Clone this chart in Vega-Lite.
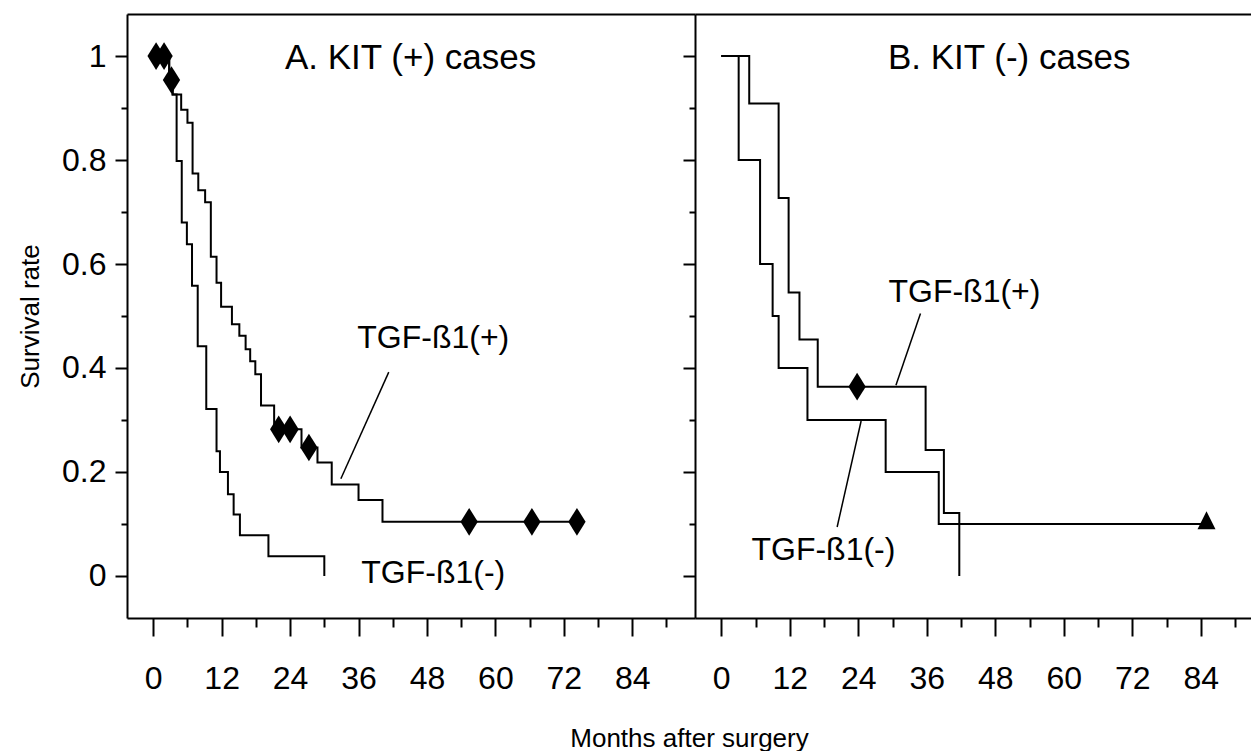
{
  "$schema": "https://vega.github.io/schema/vega-lite/v6.json",
  "background": "white",
  "padding": {"left": 17, "top": 14, "right": 0, "bottom": 0},
  "spacing": 0,
  "bounds": "flush",
  "config": {
    "font": "Liberation Sans",
    "view": {"stroke": null},
    "axis": {
      "grid": false,
      "domainColor": "black",
      "domainWidth": 2,
      "tickColor": "black",
      "tickWidth": 2,
      "labelColor": "black",
      "titleColor": "black",
      "labelFont": "Liberation Sans",
      "titleFont": "Liberation Sans",
      "labelFontSize": 32,
      "titleFontSize": 26,
      "titleFontWeight": "normal",
      "labelFlush": false,
      "labelOverlap": false
    },
    "text": {"font": "Liberation Sans", "color": "black"}
  },
  "datasets": {
    "curvesA": [
      {"group": "plus", "month": 0, "surv": 1.0},
      {"group": "plus", "month": 2.8, "surv": 0.955},
      {"group": "plus", "month": 3.4, "surv": 0.926},
      {"group": "plus", "month": 4.9, "surv": 0.897},
      {"group": "plus", "month": 6.0, "surv": 0.872},
      {"group": "plus", "month": 6.9, "surv": 0.774},
      {"group": "plus", "month": 7.9, "surv": 0.742},
      {"group": "plus", "month": 9.1, "surv": 0.719},
      {"group": "plus", "month": 10.1, "surv": 0.614},
      {"group": "plus", "month": 11.1, "surv": 0.564},
      {"group": "plus", "month": 11.9, "surv": 0.518},
      {"group": "plus", "month": 13.8, "surv": 0.484},
      {"group": "plus", "month": 15.1, "surv": 0.462},
      {"group": "plus", "month": 16.2, "surv": 0.436},
      {"group": "plus", "month": 17.0, "surv": 0.413},
      {"group": "plus", "month": 17.9, "surv": 0.388},
      {"group": "plus", "month": 18.9, "surv": 0.328},
      {"group": "plus", "month": 21.2, "surv": 0.282},
      {"group": "plus", "month": 26.0, "surv": 0.247},
      {"group": "plus", "month": 28.8, "surv": 0.218},
      {"group": "plus", "month": 31.3, "surv": 0.176},
      {"group": "plus", "month": 36.0, "surv": 0.146},
      {"group": "plus", "month": 40.2, "surv": 0.104},
      {"group": "plus", "month": 74.3, "surv": 0.104},
      {"group": "minus", "month": 0, "surv": 1.0},
      {"group": "minus", "month": 2.8, "surv": 0.955},
      {"group": "minus", "month": 3.4, "surv": 0.926},
      {"group": "minus", "month": 4.1, "surv": 0.798},
      {"group": "minus", "month": 5.0, "surv": 0.68},
      {"group": "minus", "month": 5.9, "surv": 0.638},
      {"group": "minus", "month": 6.8, "surv": 0.558},
      {"group": "minus", "month": 7.8, "surv": 0.442},
      {"group": "minus", "month": 9.3, "surv": 0.321},
      {"group": "minus", "month": 11.1, "surv": 0.24},
      {"group": "minus", "month": 11.7, "surv": 0.2},
      {"group": "minus", "month": 13.1, "surv": 0.157},
      {"group": "minus", "month": 14.1, "surv": 0.118},
      {"group": "minus", "month": 15.2, "surv": 0.078},
      {"group": "minus", "month": 20.2, "surv": 0.038},
      {"group": "minus", "month": 30.0, "surv": 0.0}
    ],
    "curvesB": [
      {"group": "plus", "month": 0, "surv": 1.0},
      {"group": "plus", "month": 4.9, "surv": 0.909},
      {"group": "plus", "month": 10.05, "surv": 0.727},
      {"group": "plus", "month": 11.8, "surv": 0.545},
      {"group": "plus", "month": 13.7, "surv": 0.455},
      {"group": "plus", "month": 16.9, "surv": 0.364},
      {"group": "plus", "month": 35.8, "surv": 0.242},
      {"group": "plus", "month": 39.0, "surv": 0.121},
      {"group": "plus", "month": 41.7, "surv": 0.0},
      {"group": "minus", "month": 0, "surv": 1.0},
      {"group": "minus", "month": 3.05, "surv": 0.8},
      {"group": "minus", "month": 6.8, "surv": 0.6},
      {"group": "minus", "month": 9.0, "surv": 0.5},
      {"group": "minus", "month": 10.05, "surv": 0.4},
      {"group": "minus", "month": 15.1, "surv": 0.3},
      {"group": "minus", "month": 28.8, "surv": 0.2},
      {"group": "minus", "month": 38.1, "surv": 0.1},
      {"group": "minus", "month": 85.0, "surv": 0.1}
    ],
    "diamondsA": [
      {"month": 0.5, "surv": 1.0},
      {"month": 1.9, "surv": 1.0},
      {"month": 3.2, "surv": 0.954},
      {"month": 22.0, "surv": 0.282},
      {"month": 24.0, "surv": 0.282},
      {"month": 27.3, "surv": 0.247},
      {"month": 55.4, "surv": 0.104},
      {"month": 66.4, "surv": 0.104},
      {"month": 74.3, "surv": 0.104}
    ],
    "diamondsB": [
      {"month": 23.8, "surv": 0.364}
    ],
    "trianglesB": [
      {"month": 85.0, "surv": 0.1}
    ],
    "leadersA": [
      {"m1": 32.9, "s1": 0.187, "m2": 41.3, "s2": 0.392}
    ],
    "leadersB": [
      {"m1": 30.6, "s1": 0.367, "m2": 34.9, "s2": 0.505},
      {"m1": 24.5, "s1": 0.298, "m2": 20.3, "s2": 0.094}
    ],
    "labelsA": [
      {"month": 49.1, "surv": 0.457, "text": "TGF-ß1(+)"},
      {"month": 49.1, "surv": 0.005, "text": "TGF-ß1(-)"}
    ],
    "labelsB": [
      {"month": 42.6, "surv": 0.546, "text": "TGF-ß1(+)"},
      {"month": 17.9, "surv": 0.049, "text": "TGF-ß1(-)"}
    ],
    "titlesA": [
      {"month": 23.1, "surv": 0.997, "text": "A. KIT (+) cases"}
    ],
    "titlesB": [
      {"month": 29.2, "surv": 0.997, "text": "B. KIT (-) cases"}
    ]
  },
  "hconcat": [
    {
      "width": 568,
      "height": 604,
      "layer": [
        {
          "data": {"name": "curvesA"},
          "mark": {"type": "line", "interpolate": "step-after", "color": "black", "strokeWidth": 2},
          "encoding": {
            "x": {
              "field": "month", "type": "quantitative",
              "scale": {"domain": [-4.6, 95], "nice": false, "zero": false},
              "axis": {
                "orient": "bottom",
                "values": [0, 6, 12, 18, 24, 30, 36, 42, 48, 54, 60, 66, 72, 78, 84, 90],
                "labelExpr": "(datum.value % 12 == 0 && datum.value <= 84) ? datum.label : ''",
                "tickSize": {"condition": {"test": "datum.value % 12 == 0", "value": 18}, "value": 9},
                "labelPadding": 27,
                "title": "Months after surgery",
                "titleX": 562,
                "titleY": 128,
                "titleBaseline": "alphabetic",
                "titleAlign": "center"
              }
            },
            "y": {
              "field": "surv", "type": "quantitative",
              "scale": {"domain": [-0.081, 1.081], "nice": false, "zero": false},
              "axis": {
                "values": [0, 0.1, 0.2, 0.3, 0.4, 0.5, 0.6, 0.7, 0.8, 0.9, 1],
                "format": ".1~f",
                "labelExpr": "(datum.label == '0' || datum.label == '0.2' || datum.label == '0.4' || datum.label == '0.6' || datum.label == '0.8' || datum.label == '1') ? datum.label : ''",
                "tickSize": {"condition": {"test": "round(datum.value * 10) % 2 == 0", "value": 12}, "value": 6},
                "labelPadding": 9,
                "title": "Survival rate",
                "titleX": -97,
                "titleAngle": 270,
                "titleBaseline": "middle",
                "titleAlign": "center"
              }
            },
            "detail": {"field": "group"}
          }
        },
        {
          "data": {"name": "diamondsA"},
          "mark": {"type": "point", "shape": "M0,-1.6L1,0L0,1.6L-1,0Z", "filled": true, "color": "black", "opacity": 1, "size": 300},
          "encoding": {
            "x": {"field": "month", "type": "quantitative", "axis": {"orient": "top", "labels": false, "ticks": false, "title": null, "domain": true}},
            "y": {"field": "surv", "type": "quantitative"}
          }
        },
        {
          "data": {"name": "leadersA"},
          "mark": {"type": "rule", "color": "black", "strokeWidth": 1.5},
          "encoding": {
            "x": {"field": "m1", "type": "quantitative", "axis": null},
            "y": {"field": "s1", "type": "quantitative"},
            "x2": {"field": "m2"},
            "y2": {"field": "s2"}
          }
        },
        {
          "data": {"name": "labelsA"},
          "mark": {"type": "text", "fontSize": 32, "align": "center", "baseline": "middle"},
          "encoding": {
            "x": {"field": "month", "type": "quantitative", "axis": null},
            "y": {"field": "surv", "type": "quantitative"},
            "text": {"field": "text"}
          }
        },
        {
          "data": {"name": "titlesA"},
          "mark": {"type": "text", "fontSize": 35, "align": "left", "baseline": "middle"},
          "encoding": {
            "x": {"field": "month", "type": "quantitative", "axis": null},
            "y": {"field": "surv", "type": "quantitative"},
            "text": {"field": "text"}
          }
        }
      ],
      "resolve": {"axis": {"x": "independent"}}
    },
    {
      "width": 556,
      "height": 604,
      "layer": [
        {
          "data": {"name": "curvesB"},
          "mark": {"type": "line", "interpolate": "step-after", "color": "black", "strokeWidth": 2},
          "encoding": {
            "x": {
              "field": "month", "type": "quantitative",
              "scale": {"domain": [-4.6, 92.8], "nice": false, "zero": false},
              "axis": {
                "orient": "bottom",
                "values": [0, 6, 12, 18, 24, 30, 36, 42, 48, 54, 60, 66, 72, 78, 84, 90],
                "labelExpr": "(datum.value % 12 == 0 && datum.value <= 84) ? datum.label : ''",
                "tickSize": {"condition": {"test": "datum.value % 12 == 0", "value": 18}, "value": 9},
                "labelPadding": 27,
                "title": null
              }
            },
            "y": {
              "field": "surv", "type": "quantitative",
              "scale": {"domain": [-0.081, 1.081], "nice": false, "zero": false},
              "axis": {
                "values": [0, 0.1, 0.2, 0.3, 0.4, 0.5, 0.6, 0.7, 0.8, 0.9, 1],
                "labels": false,
                "tickSize": {"condition": {"test": "round(datum.value * 10) % 2 == 0", "value": 12}, "value": 6},
                "title": null
              }
            },
            "detail": {"field": "group"}
          }
        },
        {
          "data": {"name": "diamondsB"},
          "mark": {"type": "point", "shape": "M0,-1.6L1,0L0,1.6L-1,0Z", "filled": true, "color": "black", "opacity": 1, "size": 300},
          "encoding": {
            "x": {"field": "month", "type": "quantitative", "axis": {"orient": "top", "labels": false, "ticks": false, "title": null, "domain": true}},
            "y": {"field": "surv", "type": "quantitative"}
          }
        },
        {
          "data": {"name": "trianglesB"},
          "mark": {"type": "point", "shape": "M0,-1.4L1,0.6L-1,0.6Z", "filled": true, "color": "black", "opacity": 1, "size": 324},
          "encoding": {
            "x": {"field": "month", "type": "quantitative", "axis": null},
            "y": {"field": "surv", "type": "quantitative"}
          }
        },
        {
          "data": {"name": "leadersB"},
          "mark": {"type": "rule", "color": "black", "strokeWidth": 1.5},
          "encoding": {
            "x": {"field": "m1", "type": "quantitative", "axis": null},
            "y": {"field": "s1", "type": "quantitative"},
            "x2": {"field": "m2"},
            "y2": {"field": "s2"}
          }
        },
        {
          "data": {"name": "labelsB"},
          "mark": {"type": "text", "fontSize": 32, "align": "center", "baseline": "middle"},
          "encoding": {
            "x": {"field": "month", "type": "quantitative", "axis": null},
            "y": {"field": "surv", "type": "quantitative"},
            "text": {"field": "text"}
          }
        },
        {
          "data": {"name": "titlesB"},
          "mark": {"type": "text", "fontSize": 35, "align": "left", "baseline": "middle"},
          "encoding": {
            "x": {"field": "month", "type": "quantitative", "axis": null},
            "y": {"field": "surv", "type": "quantitative"},
            "text": {"field": "text"}
          }
        }
      ],
      "resolve": {"axis": {"x": "independent"}}
    }
  ]
}
